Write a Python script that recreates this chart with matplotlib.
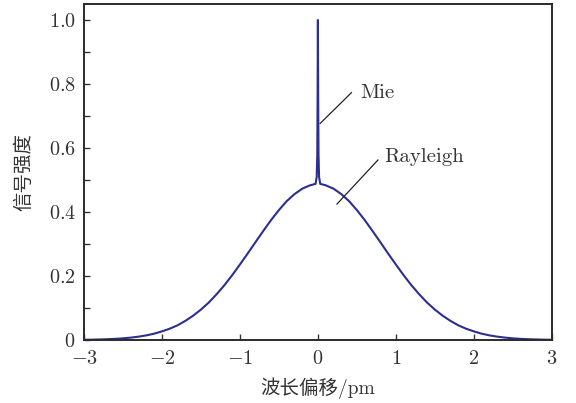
import numpy as np
import matplotlib
matplotlib.use('Agg')
import matplotlib.pyplot as plt
from matplotlib.ticker import FixedLocator, FixedFormatter, MultipleLocator

plt.rcParams['font.family'] = ['cmr10', 'Noto Sans CJK SC', 'DejaVu Sans']
plt.rcParams['mathtext.fontset'] = 'cm'
plt.rcParams['axes.unicode_minus'] = False

# wavelength shift (pm) and normalised signal: broad Rayleigh line + narrow Mie spike
shift = [-3.0, -2.9, -2.8, -2.7, -2.6, -2.5, -2.4, -2.3, -2.2, -2.1,
         -2.0, -1.9, -1.8, -1.7, -1.6, -1.5, -1.4, -1.3, -1.2, -1.1,
         -1.0, -0.9, -0.8, -0.7, -0.6, -0.5, -0.4, -0.3, -0.2, -0.1,
         -0.03, -0.015, -0.008, -0.004, 0.0, 0.004, 0.008, 0.015, 0.03,
         0.1, 0.2, 0.3, 0.4, 0.5, 0.6, 0.7, 0.8, 0.9, 1.0,
         1.1, 1.2, 1.3, 1.4, 1.5, 1.6, 1.7, 1.8, 1.9, 2.0,
         2.1, 2.2, 2.3, 2.4, 2.5, 2.6, 2.7, 2.8, 2.9, 3.0]
signal = [0.0007, 0.0011, 0.0017, 0.0025, 0.0036, 0.0052, 0.0075, 0.0105, 0.0145, 0.0198,
          0.027, 0.0354, 0.046, 0.0598, 0.076, 0.0951, 0.117, 0.1428, 0.171, 0.2023,
          0.236, 0.2705, 0.306, 0.341, 0.375, 0.406, 0.434, 0.456, 0.473, 0.4835,
          0.488, 0.51, 0.58, 0.75, 1.0, 0.75, 0.58, 0.51, 0.488,
          0.4835, 0.473, 0.456, 0.434, 0.406, 0.375, 0.341, 0.306, 0.2705, 0.236,
          0.2023, 0.171, 0.1428, 0.117, 0.0951, 0.076, 0.0598, 0.046, 0.0354, 0.027,
          0.0198, 0.0145, 0.0105, 0.0075, 0.0052, 0.0036, 0.0025, 0.0017, 0.0011, 0.0007]

x_ticks = [-3, -2, -1, 0, 1, 2, 3]
x_labels = [r'$-3$', r'$-2$', r'$-1$', r'$0$', r'$1$', r'$2$', r'$3$']
y_ticks = [0, 0.2, 0.4, 0.6, 0.8, 1.0]
y_labels = [r'$0$', r'$0.2$', r'$0.4$', r'$0.6$', r'$0.8$', r'$1.0$']

fig = plt.figure(figsize=(5.76, 4.03), dpi=100)
ax = fig.add_axes([0.1458, 0.1563, 0.8122, 0.8337])

ax.plot(shift, signal, color='#2b2f8f', linewidth=1.5)

ax.set_xlim(-3, 3)
ax.set_ylim(0, 1.05)

ax.xaxis.set_major_locator(FixedLocator(x_ticks))
ax.xaxis.set_major_formatter(FixedFormatter(x_labels))
ax.yaxis.set_major_locator(FixedLocator(y_ticks))
ax.yaxis.set_major_formatter(FixedFormatter(y_labels))
ax.yaxis.set_minor_locator(MultipleLocator(0.1))

ax.tick_params(which='both', direction='in', top=False, right=False,
               labelsize=14.5, colors='#333333', width=1.0)
ax.tick_params(which='major', length=4)
ax.tick_params(which='minor', length=4)
ax.tick_params(axis='x', pad=7)
ax.tick_params(axis='y', pad=6)
for s in ax.spines.values():
    s.set_linewidth(1.4)
    s.set_color('#2a2a2a')

ax.set_xlabel('波长偏移/pm', fontsize=14, color='#333333', labelpad=7)
ax.set_ylabel('信号强度', fontsize=14, color='#333333', labelpad=11)

# leader lines and labels for the two scattering components
ax.plot([0.43, 0.03], [0.773, 0.677], color='#222222', linewidth=0.9)
ax.text(0.54, 0.773, 'Mie', fontsize=15, va='center', ha='left', color='#333333')
ax.plot([0.77, 0.245], [0.5625, 0.425], color='#222222', linewidth=0.9)
ax.text(0.854, 0.573, 'Rayleigh', fontsize=15, va='center', ha='left', color='#333333')

fig.savefig('out.png', dpi=100)
